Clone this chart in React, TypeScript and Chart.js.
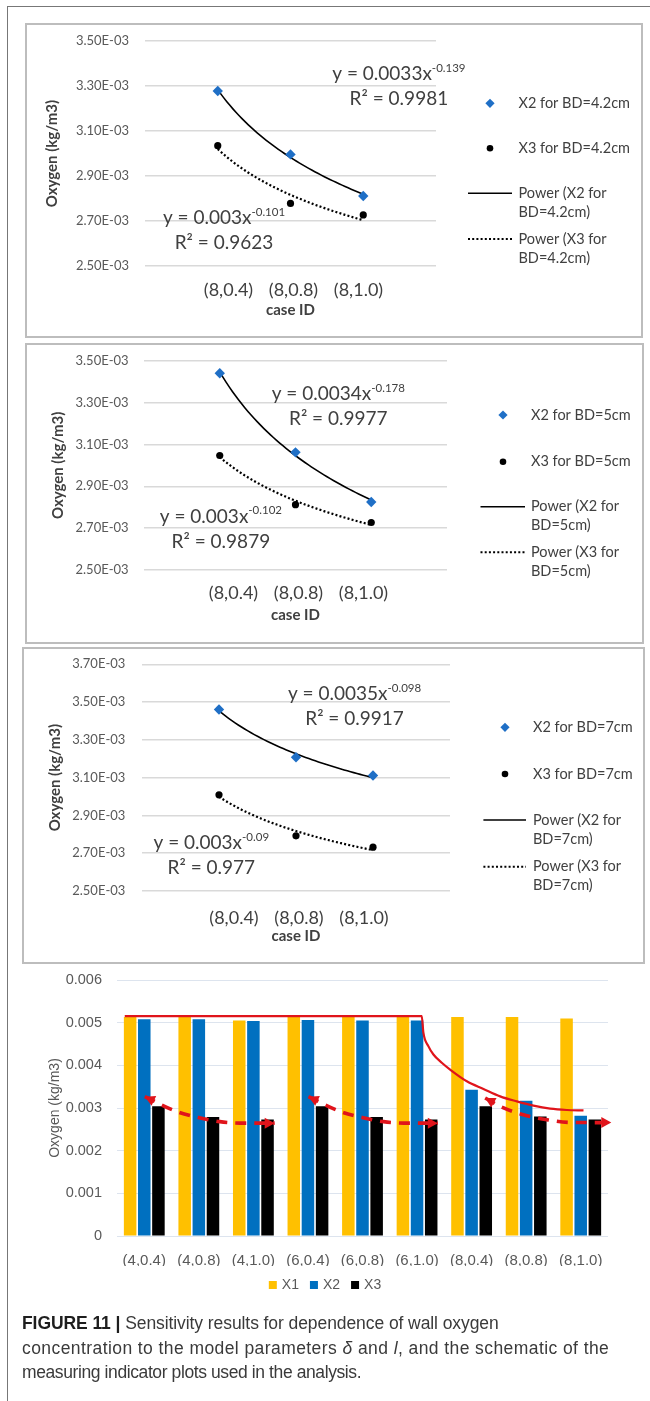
import React, { useEffect, useRef } from 'react';
import { Chart, registerables } from 'chart.js';

Chart.register(...registerables);

// ---------- trend panels: wall oxygen (kg/m3) for the three δ = 8 cases ----------
const CASE_IDS = ['(8,0.4)', '(8,0.8)', '(8,1.0)'];
const CASE_POS = [1, 2, 3];

const X2_BD42 = [3.278e-3, 2.996e-3, 2.811e-3];
const X3_BD42 = [3.035e-3, 2.778e-3, 2.727e-3];
const X2_BD5 = [3.44e-3, 3.062e-3, 2.825e-3];
const X3_BD5 = [3.047e-3, 2.812e-3, 2.727e-3];
const X2_BD7 = [3.461e-3, 3.208e-3, 3.111e-3];
const X3_BD7 = [3.009e-3, 2.792e-3, 2.732e-3];

const Y_TICKS_SHORT = ['2.50E-03', '2.70E-03', '2.90E-03', '3.10E-03', '3.30E-03', '3.50E-03'];
const Y_TICKS_TALL = ['2.50E-03', '2.70E-03', '2.90E-03', '3.10E-03', '3.30E-03', '3.50E-03', '3.70E-03'];

// printed power-law fits: [equation, exponent, R²]
const EQ_BD42_X2 = ['y = 0.0033x', '-0.139', 'R² = 0.9981'];
const EQ_BD42_X3 = ['y = 0.003x', '-0.101', 'R² = 0.9623'];
const EQ_BD5_X2 = ['y = 0.0034x', '-0.178', 'R² = 0.9977'];
const EQ_BD5_X3 = ['y = 0.003x', '-0.102', 'R² = 0.9879'];
const EQ_BD7_X2 = ['y = 0.0035x', '-0.098', 'R² = 0.9917'];
const EQ_BD7_X3 = ['y = 0.003x', '-0.09', 'R² = 0.977'];

const LEGEND_BD42 = [['X2 for BD=4.2cm'], ['X3 for BD=4.2cm'], ['Power (X2 for', 'BD=4.2cm)'], ['Power (X3 for', 'BD=4.2cm)']];
const LEGEND_BD5 = [['X2 for BD=5cm'], ['X3 for BD=5cm'], ['Power (X2 for', 'BD=5cm)'], ['Power (X3 for', 'BD=5cm)']];
const LEGEND_BD7 = [['X2 for BD=7cm'], ['X3 for BD=7cm'], ['Power (X2 for', 'BD=7cm)'], ['Power (X3 for', 'BD=7cm)']];

// ---------- bar chart: all nine (δ, l) cases ----------
const BAR_CASES = ['(4,0.4)', '(4,0.8)', '(4,1.0)', '(6,0.4)', '(6,0.8)', '(6,1.0)', '(8,0.4)', '(8,0.8)', '(8,1.0)'];
const BAR_Y_TICKS = ['0', '0.001', '0.002', '0.003', '0.004', '0.005', '0.006'];
const X1_VALUES = [0.00513, 0.00513, 0.00505, 0.00513, 0.00513, 0.00513, 0.00513, 0.00513, 0.0051];
const X2_VALUES = [0.00508, 0.00508, 0.00504, 0.00506, 0.00505, 0.00505, 0.00343, 0.00317, 0.00282];
const X3_VALUES = [0.00304, 0.00279, 0.00273, 0.00304, 0.00279, 0.00273, 0.00304, 0.0028, 0.00273];

// schematic indicator curves (x in category units, y in kg/m3)
const UPPER_X = [-0.358, 5.086, 5.116, 5.207, 5.3, 5.453, 5.606, 5.912, 6.217, 6.523, 6.829, 7.134, 7.44, 7.747, 8.051];
const UPPER_Y = [5.155e-3, 5.155e-3, 4.765e-3, 4.45e-3, 4.254e-3, 4.06e-3, 3.9e-3, 3.626e-3, 3.447e-3, 3.273e-3, 3.155e-3, 3.054e-3, 2.984e-3, 2.953e-3, 2.944e-3];
const LOWER_A_X = [0.01, 0.59, 0.987, 1.385, 1.844, 2.39];
const LOWER_B_X = [3.01, 3.59, 3.99, 4.385, 4.844, 5.38];
const LOWER_AB_Y = [3.266e-3, 2.92e-3, 2.779e-3, 2.68e-3, 2.645e-3, 2.645e-3];
const LOWER_C_X = [6.248, 6.554, 6.95, 7.38, 7.807, 8.56];
const LOWER_C_Y = [3.235e-3, 3.02e-3, 2.84e-3, 2.725e-3, 2.662e-3, 2.658e-3];

// ---------- styling ----------
const LATO = 'Lato, "Open Sans", sans-serif';
const ARIAL = '"Liberation Sans", Arial, sans-serif';
const INK = '#404040';
const TICK = '#595959';
const DIAMOND_BLUE = '#1f6fc6';
const GOLD = '#ffc000';
const BAR_BLUE = '#0070c0';
const RED = '#e0141b';

type Eq = { u: number; v: number; text: string[] };
type Panel = {
  top: number;
  height: number;
  area: { left: number; right: number; top: number; bottom: number };
  yMin: number;
  yMax: number;
  yTicks: string[];
  x2: number[];
  x3: number[];
  tickGap: number;
  yTitleX: number;
  xLabelY: number;
  xTitleY: number;
  legend: { markerX: number; textX: number; lineFrom: number; lineTo: number; rows: number[] };
  legendText: string[][];
  eqs: Eq[];
};

// horizontal pitch and shift (px) of the case labels under each panel
const CASE_LABEL_PITCH = 65;
const CASE_LABEL_SHIFT = 3;

const PANELS: Panel[] = [
  {
    top: 24, height: 313,
    area: { left: 145, right: 436, top: 41, bottom: 266 },
    yMin: 2.5e-3, yMax: 3.5e-3, yTicks: Y_TICKS_SHORT,
    x2: X2_BD42, x3: X3_BD42,
    tickGap: 16, yTitleX: 52, xLabelY: 282, xTitleY: 310,
    legend: { markerX: 490, textX: 518.5, lineFrom: 468, lineTo: 512, rows: [103.3, 148.3, 193.3, 239] },
    legendText: LEGEND_BD42,
    eqs: [
      { u: 3.49, v: 3.353e-3, text: EQ_BD42_X2 },
      { u: 1.086, v: 2.712e-3, text: EQ_BD42_X3 },
    ],
  },
  {
    top: 344, height: 299,
    area: { left: 144, right: 447, top: 360.7, bottom: 570 },
    yMin: 2.5e-3, yMax: 3.5e-3, yTicks: Y_TICKS_SHORT,
    x2: X2_BD5, x3: X3_BD5,
    tickGap: 15.4, yTitleX: 58, xLabelY: 585, xTitleY: 615,
    legend: { markerX: 503, textX: 531, lineFrom: 480.5, lineTo: 525, rows: [415, 461.7, 506.7, 552.3] },
    legendText: LEGEND_BD5,
    eqs: [
      { u: 2.565, v: 3.341e-3, text: EQ_BD5_X2 },
      { u: 1.015, v: 2.755e-3, text: EQ_BD5_X3 },
    ],
  },
  {
    top: 648, height: 315,
    area: { left: 142, right: 450, top: 664.3, bottom: 891 },
    yMin: 2.5e-3, yMax: 3.7e-3, yTicks: Y_TICKS_TALL,
    x2: X2_BD7, x3: X3_BD7,
    tickGap: 16.7, yTitleX: 55, xLabelY: 910, xTitleY: 936,
    legend: { markerX: 505, textX: 533, lineFrom: 483.4, lineTo: 526, rows: [727.3, 774, 820, 866.7] },
    legendText: LEGEND_BD7,
    eqs: [
      { u: 2.76, v: 3.541e-3, text: EQ_BD7_X2 },
      { u: 0.9, v: 2.754e-3, text: EQ_BD7_X3 },
    ],
  },
];

const PANEL_BOXES = [
  { left: 25, top: 23, right: 643, bottom: 338 },
  { left: 25, top: 343, right: 644, bottom: 644 },
  { left: 22, top: 647, right: 645, bottom: 964 },
];

const BAR = {
  top: 966,
  height: 334,
  area: { left: 117, right: 608, top: 980, bottom: 1236 },
  xAxisH: 30,
  tickGap: 15,
  xLabelY: 1253,
  legendX: 325,
  legendY: 1285,
};

// least-squares power fit y = a·x^b on log–log axes, sampled for drawing
function powerTrend(xs: number[], ys: number[]) {
  const n = xs.length;
  const lx = xs.map((v) => Math.log(v));
  const ly = ys.map((v) => Math.log(v));
  const mx = lx.reduce((s, v) => s + v, 0) / n;
  const my = ly.reduce((s, v) => s + v, 0) / n;
  let sxy = 0;
  let sxx = 0;
  for (let i = 0; i < n; i++) {
    sxy += (lx[i] - mx) * (ly[i] - my);
    sxx += (lx[i] - mx) * (lx[i] - mx);
  }
  const b = sxy / sxx;
  const a = Math.exp(my - b * mx);
  const x0 = xs[0];
  const x1 = xs[n - 1];
  const steps = 48;
  return Array.from({ length: steps + 1 }, (_, i) => {
    const x = x0 + ((x1 - x0) * i) / steps;
    return { x, y: a * Math.pow(x, b) };
  });
}

const pairs = (xs: number[], ys: number[]) => xs.map((x, i) => ({ x, y: ys[i] }));

function panelAnnotations(p: Panel) {
  return {
    id: 'panelAnnotations',
    afterDraw(chart: any) {
      const ctx: CanvasRenderingContext2D = chart.ctx;
      const xs = chart.scales.x;
      const ys = chart.scales.y;
      ctx.save();
      ctx.fillStyle = INK;
      ctx.textBaseline = 'middle';

      // fit equations
      for (const eq of p.eqs) {
        const cx = xs.getPixelForValue(eq.u);
        const cy = ys.getPixelForValue(eq.v);
        const main = `19px ${LATO}`;
        const small = `11.5px ${LATO}`;
        ctx.font = main;
        const wm = ctx.measureText(eq.text[0]).width;
        ctx.font = small;
        const ws = ctx.measureText(eq.text[1]).width;
        const x0 = cx - (wm + ws) / 2;
        ctx.textAlign = 'left';
        ctx.font = main;
        ctx.fillText(eq.text[0], x0, cy);
        ctx.font = small;
        ctx.fillText(eq.text[1], x0 + wm, cy - 6);
        ctx.font = main;
        ctx.textAlign = 'center';
        ctx.fillText(eq.text[2], cx, cy + 25);
      }

      // legend
      const L = p.legend;
      const rows = L.rows.map((r) => r - p.top);
      ctx.fillStyle = DIAMOND_BLUE;
      ctx.beginPath();
      ctx.moveTo(L.markerX, rows[0] - 4.6);
      ctx.lineTo(L.markerX + 4.6, rows[0]);
      ctx.lineTo(L.markerX, rows[0] + 4.6);
      ctx.lineTo(L.markerX - 4.6, rows[0]);
      ctx.closePath();
      ctx.fill();
      ctx.fillStyle = '#000';
      ctx.beginPath();
      ctx.arc(L.markerX, rows[1], 3.3, 0, Math.PI * 2);
      ctx.fill();
      ctx.strokeStyle = '#000';
      ctx.lineWidth = 1.5;
      ctx.beginPath();
      ctx.moveTo(L.lineFrom, rows[2]);
      ctx.lineTo(L.lineTo, rows[2]);
      ctx.stroke();
      ctx.lineWidth = 2;
      ctx.setLineDash([2, 2.2]);
      ctx.beginPath();
      ctx.moveTo(L.lineFrom, rows[3]);
      ctx.lineTo(L.lineTo, rows[3]);
      ctx.stroke();
      ctx.setLineDash([]);

      ctx.fillStyle = INK;
      ctx.font = `14.5px ${LATO}`;
      ctx.textAlign = 'left';
      p.legendText.forEach((lines, i) => {
        lines.forEach((line, k) => ctx.fillText(line, L.textX, rows[i] + k * 19));
      });
      ctx.restore();
    },
  };
}

function trendConfig(p: Panel) {
  const aTop = p.area.top - p.top;
  const aBot = p.area.bottom - p.top;
  const labelLH = 18 * 1.2;
  const titleLH = 15 * 1.2;
  const xAxisH = p.xTitleY - p.top + titleLH / 2 - aBot;
  const padBottom = p.height - aBot - xAxisH;
  const unit = (p.area.right - p.area.left) / 4;
  const mid = CASE_POS[1] + CASE_LABEL_SHIFT / unit;
  const step = CASE_LABEL_PITCH / unit;
  const labelAt = [mid - step, mid, mid + step];
  return {
    type: 'scatter',
    data: {
      datasets: [
        {
          label: p.legendText[0][0],
          data: pairs(CASE_POS, p.x2),
          pointStyle: 'rectRot',
          pointRadius: 5.2,
          pointHoverRadius: 5.2,
          backgroundColor: DIAMOND_BLUE,
          borderColor: DIAMOND_BLUE,
          borderWidth: 0,
        },
        {
          label: p.legendText[1][0],
          data: pairs(CASE_POS, p.x3),
          pointStyle: 'circle',
          pointRadius: 3.6,
          pointHoverRadius: 3.6,
          backgroundColor: '#000',
          borderColor: '#000',
          borderWidth: 0,
        },
        {
          label: p.legendText[2].join(' '),
          data: powerTrend(CASE_POS, p.x2),
          showLine: true,
          pointRadius: 0,
          borderColor: '#000',
          borderWidth: 1.6,
        },
        {
          label: p.legendText[3].join(' '),
          data: powerTrend(CASE_POS, p.x3),
          showLine: true,
          pointRadius: 0,
          borderColor: '#000',
          borderWidth: 2.2,
          borderDash: [2, 2.2],
        },
      ],
    },
    options: {
      animation: false,
      responsive: false,
      events: [],
      layout: { padding: { left: 0, right: 650 - p.area.right, top: aTop, bottom: padBottom } },
      plugins: { legend: { display: false }, tooltip: { enabled: false } },
      scales: {
        x: {
          type: 'linear',
          min: 0,
          max: 4,
          afterBuildTicks: (s: any) => {
            s.ticks = labelAt.map((v) => ({ value: v }));
          },
          afterFit: (s: any) => {
            s.height = xAxisH;
          },
          grid: { display: false },
          border: { display: false },
          ticks: {
            autoSkip: false,
            maxRotation: 0,
            padding: p.xLabelY - p.top - aBot - labelLH / 2,
            font: { family: LATO, size: 18 },
            color: INK,
            callback: (_v: number, i: number) => CASE_IDS[i],
          },
          title: {
            display: true,
            text: 'case ID',
            font: { family: LATO, size: 15, weight: 'bold' },
            color: INK,
            padding: { top: 0, bottom: 0 },
          },
        },
        y: {
          min: p.yMin,
          max: p.yMax,
          afterFit: (s: any) => {
            s.width = p.area.left;
          },
          // the label gap is carried by an invisible tick mark so it does not inflate the plot's top inset
          grid: { color: '#d9d9d9', lineWidth: 1.5, drawTicks: true, tickLength: p.tickGap, tickColor: 'rgba(0,0,0,0)' },
          border: { display: false },
          ticks: {
            stepSize: 0.0002,
            padding: 0,
            font: { family: LATO, size: 13 },
            color: TICK,
            callback: (_v: number, i: number) => p.yTicks[i],
          },
          title: {
            display: true,
            text: 'Oxygen (kg/m3)',
            font: { family: LATO, size: 15, weight: 'bold' },
            color: INK,
            padding: { top: p.yTitleX - titleLH / 2, bottom: 0 },
          },
        },
      },
    },
    plugins: [panelAnnotations(p)],
  };
}

const barLegend = {
  id: 'barLegend',
  afterDraw(chart: any) {
    const ctx: CanvasRenderingContext2D = chart.ctx;
    const items = chart.data.datasets;
    ctx.save();
    ctx.font = `14px ${ARIAL}`;
    ctx.textBaseline = 'middle';
    ctx.textAlign = 'left';
    const box = 8;
    const gap = 5;
    const spacing = 11;
    const widths = items.map((d: any) => ctx.measureText(d.label).width);
    const total = widths.reduce((s: number, w: number) => s + box + gap + w, 0) + spacing * (items.length - 1);
    let x = BAR.legendX - total / 2;
    const y = BAR.legendY - BAR.top;
    items.forEach((d: any, i: number) => {
      ctx.fillStyle = d.backgroundColor;
      ctx.fillRect(x, y - box / 2, box, box);
      ctx.fillStyle = TICK;
      ctx.fillText(d.label, x + box + gap, y + 0.5);
      x += box + gap + widths[i] + spacing;
    });
    ctx.restore();
  },
};

function barLayoutPadding() {
  const aTop = BAR.area.top - BAR.top;
  const aBot = BAR.area.bottom - BAR.top;
  return { left: 0, right: 650 - BAR.area.right, top: aTop, bottom: BAR.height - aBot - BAR.xAxisH };
}

function barConfig() {
  const aBot = BAR.area.bottom - BAR.top;
  return {
    type: 'bar',
    data: {
      labels: BAR_CASES,
      datasets: [
        { label: 'X1', data: X1_VALUES, backgroundColor: GOLD },
        { label: 'X2', data: X2_VALUES, backgroundColor: BAR_BLUE },
        { label: 'X3', data: X3_VALUES, backgroundColor: '#000000' },
      ],
    },
    options: {
      animation: false,
      responsive: false,
      events: [],
      datasets: { bar: { categoryPercentage: 0.778, barPercentage: 0.885 } },
      layout: { padding: barLayoutPadding() },
      plugins: { legend: { display: false }, tooltip: { enabled: false } },
      scales: {
        x: {
          grid: { display: false },
          border: { display: false },
          afterFit: (s: any) => {
            s.height = BAR.xAxisH;
          },
          ticks: {
            autoSkip: false,
            maxRotation: 0,
            padding: BAR.xLabelY - BAR.top - aBot - 9,
            font: { family: ARIAL, size: 15 },
            color: TICK,
          },
        },
        y: {
          min: 0,
          max: 0.006,
          afterFit: (s: any) => {
            s.width = BAR.area.left;
          },
          grid: { color: '#dde4ee', lineWidth: 1, drawTicks: true, tickLength: BAR.tickGap, tickColor: 'rgba(0,0,0,0)' },
          border: { display: false },
          ticks: {
            stepSize: 0.001,
            padding: 0,
            font: { family: ARIAL, size: 14.5 },
            color: TICK,
            callback: (_v: number, i: number) => BAR_Y_TICKS[i],
          },
          title: {
            display: true,
            text: 'Oxygen (kg/m3)',
            font: { family: ARIAL, size: 14 },
            color: TICK,
            padding: { top: 55 - 8.4, bottom: 0 },
          },
        },
      },
    },
    plugins: [barLegend],
  };
}

// ---------- red indicator curves, drawn on a transparent layer with the same plot area ----------
const ARROWED = [1, 2, 3];

function arrowHead(ctx: CanvasRenderingContext2D, tip: any, from: any, len: number, half: number) {
  const dx = tip.x - from.x;
  const dy = tip.y - from.y;
  const d = Math.hypot(dx, dy) || 1;
  const ux = dx / d;
  const uy = dy / d;
  const bx = tip.x - ux * len;
  const by = tip.y - uy * len;
  ctx.beginPath();
  ctx.moveTo(tip.x, tip.y);
  ctx.lineTo(bx - uy * half, by + ux * half);
  ctx.lineTo(bx + uy * half, by - ux * half);
  ctx.closePath();
  ctx.fill();
}

const guideArrows = {
  id: 'guideArrows',
  afterDatasetsDraw(chart: any) {
    const ctx: CanvasRenderingContext2D = chart.ctx;
    ctx.save();
    ctx.fillStyle = RED;
    for (const i of ARROWED) {
      const pts = chart.getDatasetMeta(i).data;
      const n = pts.length;
      arrowHead(ctx, pts[0], pts[1], 10, 5.5);
      arrowHead(ctx, pts[n - 1], pts[n - 2], 10, 5.5);
    }
    ctx.restore();
  },
};

function guideConfig() {
  const base = {
    borderColor: RED,
    pointRadius: 0,
    cubicInterpolationMode: 'monotone',
    clip: false,
  };
  const dashed = { ...base, borderWidth: 3.6, borderDash: [11, 8] };
  const hidden = { grid: { display: false }, border: { display: false }, ticks: { display: false } };
  return {
    type: 'line',
    data: {
      datasets: [
        { ...base, label: 'upper', data: pairs(UPPER_X, UPPER_Y), borderWidth: 2.2 },
        { ...dashed, label: 'lower δ4', data: pairs(LOWER_A_X, LOWER_AB_Y) },
        { ...dashed, label: 'lower δ6', data: pairs(LOWER_B_X, LOWER_AB_Y) },
        { ...dashed, label: 'lower δ8', data: pairs(LOWER_C_X, LOWER_C_Y) },
      ],
    },
    options: {
      animation: false,
      responsive: false,
      events: [],
      layout: { padding: barLayoutPadding() },
      plugins: { legend: { display: false }, tooltip: { enabled: false } },
      scales: {
        x: {
          type: 'linear',
          min: -0.5,
          max: 8.5,
          ...hidden,
          afterFit: (s: any) => {
            s.height = BAR.xAxisH;
          },
        },
        y: {
          min: 0,
          max: 0.006,
          ...hidden,
          afterFit: (s: any) => {
            s.width = BAR.area.left;
          },
        },
      },
    },
    plugins: [guideArrows],
  };
}

const captionLine = (spacing: number): React.CSSProperties => ({ display: 'block', letterSpacing: spacing });

export default function App() {
  const refs = useRef<(HTMLCanvasElement | null)[]>([]);

  useEffect(() => {
    const charts: Chart[] = [];
    PANELS.forEach((p, i) => {
      const c = refs.current[i];
      if (c) charts.push(new Chart(c, trendConfig(p) as any));
    });
    const bc = refs.current[3];
    if (bc) charts.push(new Chart(bc, barConfig() as any));
    const gc = refs.current[4];
    if (gc) charts.push(new Chart(gc, guideConfig() as any));
    return () => charts.forEach((ch) => ch.destroy());
  }, []);

  const canvasStyle = (top: number, height: number) =>
    ({ position: 'absolute', left: 0, top, width: 650, height } as React.CSSProperties);

  return (
    <div style={{ position: 'absolute', left: 0, top: 0, width: 650, height: 1401, background: '#fff', overflow: 'hidden' }}>
      <div style={{ position: 'absolute', left: 7, top: 6, width: 643, height: 0, borderTop: '1px solid #777' }} />
      <div style={{ position: 'absolute', left: 7, top: 6, width: 0, height: 1395, borderLeft: '1px solid #777' }} />
      {PANEL_BOXES.map((b, i) => (
        <div
          key={i}
          style={{
            position: 'absolute',
            left: b.left,
            top: b.top,
            width: b.right - b.left,
            height: b.bottom - b.top,
            boxSizing: 'border-box',
            border: '2px solid #bdbdbd',
          }}
        />
      ))}
      {PANELS.map((p, i) => (
        <canvas
          key={i}
          ref={(el) => {
            refs.current[i] = el;
          }}
          width={650}
          height={p.height}
          style={canvasStyle(p.top, p.height)}
        />
      ))}
      <canvas
        ref={(el) => {
          refs.current[3] = el;
        }}
        width={650}
        height={BAR.height}
        style={canvasStyle(BAR.top, BAR.height)}
      />
      <canvas
        ref={(el) => {
          refs.current[4] = el;
        }}
        width={650}
        height={BAR.height}
        style={canvasStyle(BAR.top, BAR.height)}
      />
      <div
        style={{
          position: 'absolute',
          left: 22,
          top: 1311,
          width: 625,
          fontFamily: ARIAL,
          fontSize: 17.5,
          lineHeight: '24.5px',
          color: '#3a3a3a',
          whiteSpace: 'nowrap',
        }}
      >
        <span style={captionLine(-0.08)}>
          <b style={{ color: '#1e1e1e' }}>FIGURE 11 |</b> Sensitivity results for dependence of wall oxygen
        </span>
        <span style={captionLine(0.42)}>
          concentration to the model parameters <i>δ</i> and <i>l</i>, and the schematic of the
        </span>
        <span style={captionLine(-0.4)}>measuring indicator plots used in the analysis.</span>
      </div>
    </div>
  );
}
